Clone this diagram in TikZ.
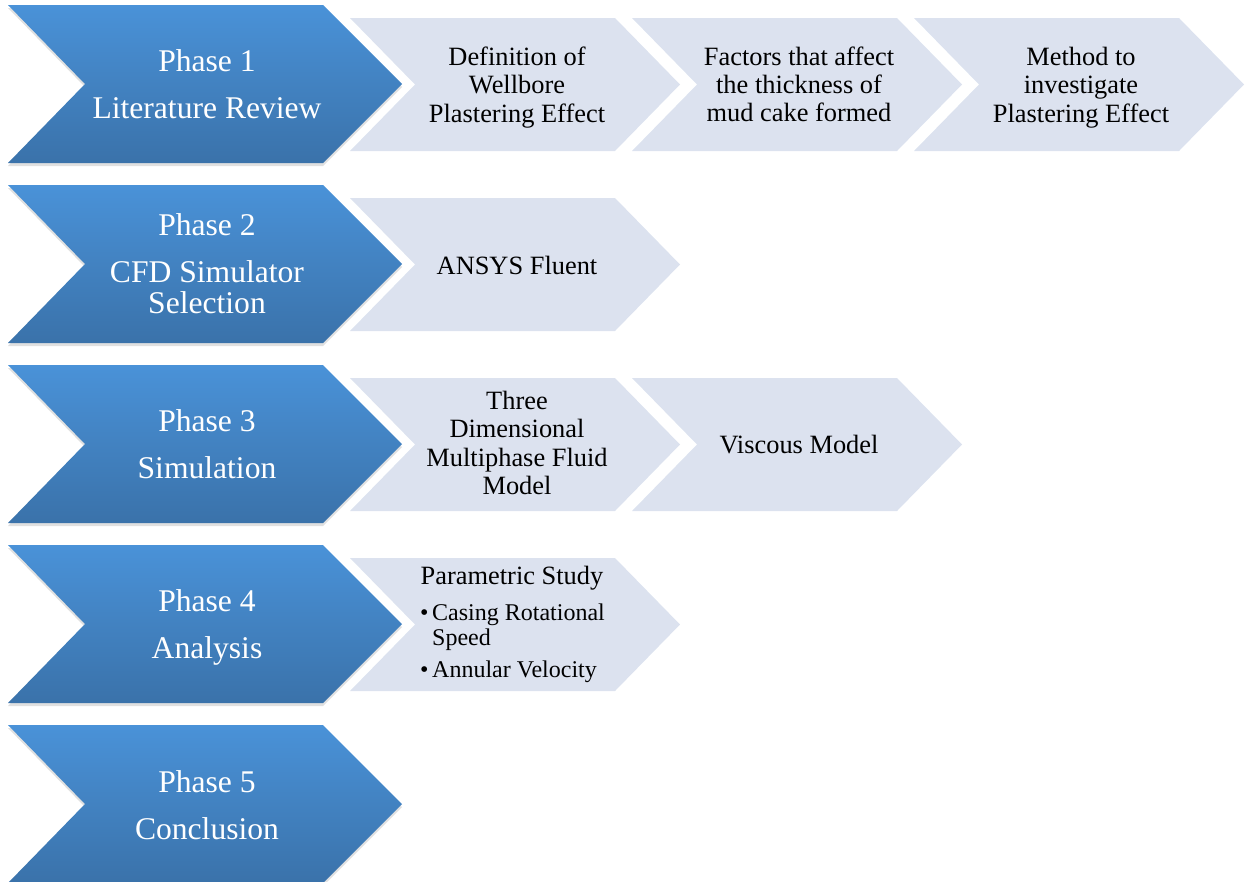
\documentclass[tikz,border=0pt]{standalone}
\usepackage{fontspec}
\setmainfont{Liberation Serif}
\usetikzlibrary{shadows}

\definecolor{phasetop}{RGB}{74,146,216}
\definecolor{phasebot}{RGB}{58,114,170}
\definecolor{taskfill}{RGB}{220,226,239}

\tikzset{
    phasearrow/.style={top color=phasetop, bottom color=phasebot,
        drop shadow={shadow xshift=0pt, shadow yshift=-3pt, opacity=0.2, fill=black!60}},
    taskarrow/.style={fill=taskfill},
    phasetext/.style={text=white, align=center, inner sep=0pt,
        font=\fontsize{31.6}{31}\selectfont},
    tasktext/.style={align=center, inner sep=0pt, font=\fontsize{26.4}{28.3}\selectfont},
    bullettext/.style={align=left, inner sep=0pt, font=\fontsize{24}{24.5}\selectfont}
}

\begin{document}
\begin{tikzpicture}[x=1pt, y=-1pt]
    \useasboundingbox (0,0) rectangle (1250,881);

    % Phase chevrons (blue)
    \foreach \t in {5,185,365,545,725}
        \path[phasearrow] (8,\t) -- ++(315,0) -- ++(79,79) -- ++(-79,79) -- ++(-315,0) -- ++(77,-79) -- cycle;

    % Task chevrons (light)
    \foreach \x/\t in {350/18, 632/18, 914/18, 350/198, 350/378, 632/378, 350/558}
        \fill[taskarrow] (\x,\t) -- ++(265,0) -- ++(65,66.5) -- ++(-65,66.5) -- ++(-265,0) -- ++(65,-66.5) -- cycle;

    % Phase labels
    \node[phasetext] (ph1) at (207,84) {Phase 1\\[16pt]Literature Review};
    \node[phasetext] (ph2) at (207,264) {Phase 2\\[16pt]CFD Simulator\\Selection};
    \node[phasetext] (ph3) at (207,444) {Phase 3\\[16pt]Simulation};
    \node[phasetext] (ph4) at (207,627.5) {Phase 4\\[16pt]Analysis};
    \node[phasetext] (ph5) at (207,805) {Phase 5\\[16pt]Conclusion};

    % Task labels
    \node[tasktext] (def) at (517,87.5) {Definition of\\Wellbore\\Plastering Effect};
    \node[tasktext] (factors) at (799,84.5) {Factors that affect\\the thickness of\\mud cake formed};
    \node[tasktext] (method) at (1081,87.5) {Method to\\investigate\\Plastering Effect};
    \node[tasktext] (ansys) at (517,265.5) {ANSYS Fluent};
    \node[tasktext] (model) at (517,443) {Three\\Dimensional\\Multiphase Fluid\\Model};
    \node[tasktext] (viscous) at (799,444.5) {Viscous Model};
    \node[tasktext] (param) at (512,578) {Parametric Study};
    \node[bullettext, anchor=west] (params) at (420,643.5)
        {\makebox[12pt][l]{\textbullet}Casing Rotational\\\hspace*{12pt}Speed\\[8pt]\makebox[12pt][l]{\textbullet}Annular Velocity};
\end{tikzpicture}
\end{document}
